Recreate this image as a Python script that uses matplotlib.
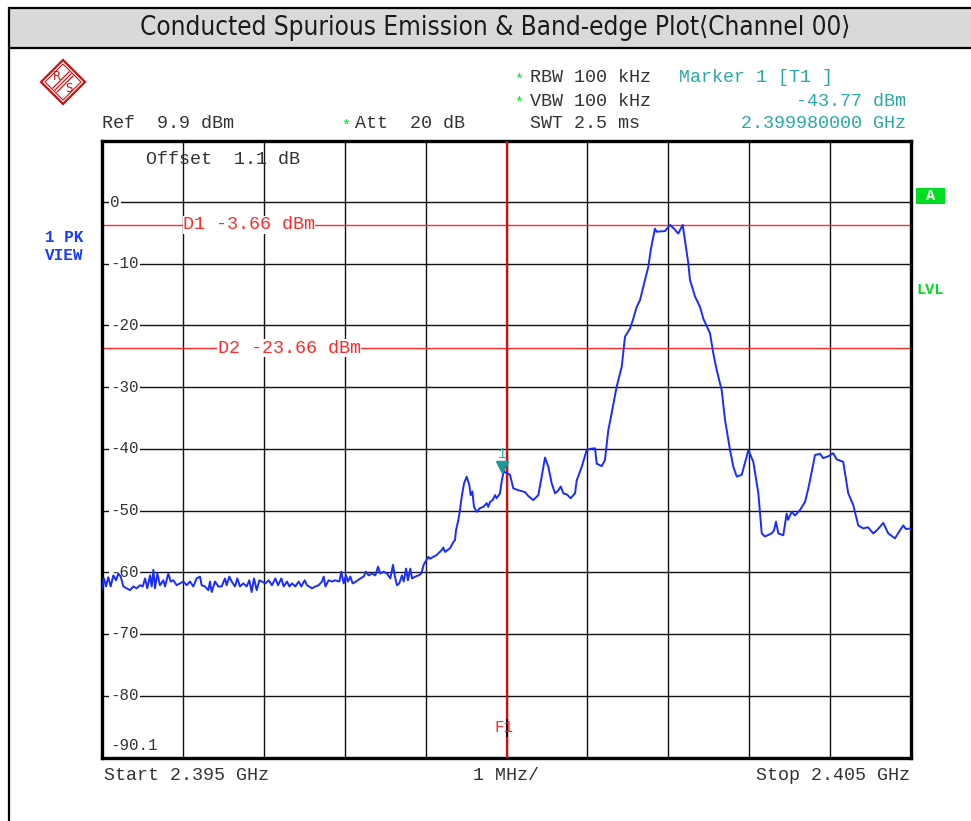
import matplotlib
matplotlib.use('Agg')
import matplotlib.pyplot as plt
from matplotlib.patches import Rectangle, Polygon

# sweep settings
f_start = 2395.0   # MHz
f_stop = 2405.0
ref_level = 9.9
bottom_level = -90.1
y_ticks = [0, -10, -20, -30, -40, -50, -60, -70, -80]
d1_level = -3.66
d2_level = -23.66
f1_mhz = 2400.0
marker_mhz = 2399.98
marker_dbm = -43.77

# trace, offset from start in MHz / level in dBm
trace_mhz = [
    0.000, 0.025, 0.049, 0.078, 0.107, 0.140, 0.173, 0.202, 0.231, 0.264,
    0.305, 0.346, 0.387, 0.429, 0.470, 0.503, 0.532, 0.560, 0.593, 0.614,
    0.635, 0.655, 0.684, 0.717, 0.758, 0.779, 0.820, 0.849, 0.882, 0.923,
    0.964, 1.005, 1.047, 1.088, 1.129, 1.170, 1.211, 1.232, 1.273, 1.314,
    1.335, 1.356, 1.397, 1.438, 1.479, 1.520, 1.541, 1.574, 1.603, 1.644,
    1.673, 1.706, 1.747, 1.788, 1.821, 1.850, 1.879, 1.912, 1.945, 1.974,
    2.019, 2.060, 2.101, 2.143, 2.176, 2.217, 2.246, 2.287, 2.316, 2.349,
    2.390, 2.431, 2.464, 2.505, 2.534, 2.596, 2.637, 2.678, 2.719, 2.740,
    2.761, 2.802, 2.843, 2.884, 2.934, 2.958, 2.987, 3.016, 3.041, 3.070,
    3.098, 3.140, 3.193, 3.234, 3.263, 3.296, 3.337, 3.379, 3.412, 3.440,
    3.482, 3.523, 3.564, 3.597, 3.618, 3.646, 3.675, 3.708, 3.729, 3.758,
    3.782, 3.811, 3.832, 3.873, 3.914, 3.947, 3.976, 3.997,
    4.034, 4.054, 4.137, 4.199, 4.219, 4.240, 4.302, 4.343, 4.363, 4.376,
    4.405, 4.425, 4.446, 4.475, 4.508, 4.541, 4.557, 4.578, 4.598, 4.631,
    4.672, 4.714, 4.755, 4.775, 4.796, 4.829, 4.858, 4.878, 4.920, 4.940,
    4.969, 4.980, 5.005, 5.043, 5.084, 5.146, 5.229, 5.266, 5.331, 5.393,
    5.435, 5.476, 5.517, 5.559, 5.600, 5.637, 5.670, 5.702, 5.748, 5.793,
    5.847, 5.868, 5.930, 5.991, 6.032, 6.094, 6.115, 6.177, 6.217, 6.258,
    6.300, 6.362, 6.424, 6.465, 6.527, 6.567, 6.609, 6.650, 6.712, 6.753,
    6.782, 6.835, 6.856, 6.959, 7.021, 7.070, 7.123, 7.178, 7.206, 7.247,
    7.268, 7.330, 7.392, 7.433, 7.516, 7.556, 7.598, 7.660, 7.701, 7.763,
    7.804, 7.846, 7.908, 7.990, 8.051, 8.113, 8.155, 8.195, 8.278, 8.307,
    8.331, 8.360, 8.421, 8.463, 8.480, 8.525, 8.566, 8.628, 8.690, 8.731,
    8.776, 8.813, 8.875, 8.915, 8.977, 9.039, 9.081, 9.162, 9.224, 9.286,
    9.348, 9.410, 9.468, 9.534, 9.592, 9.657, 9.719, 9.802, 9.864, 9.905,
    9.938, 9.988, 10.000,
]
trace_dbm = [
    -62.6, -61.0, -62.3, -60.8, -62.3, -60.5, -61.3, -60.2, -60.7, -62.3,
    -62.6, -62.9, -62.3, -62.6, -62.1, -62.3, -61.0, -62.6, -60.5, -62.3,
    -59.6, -62.6, -60.2, -62.1, -61.3, -62.3, -60.2, -61.5, -61.3, -62.1,
    -61.8, -61.5, -62.1, -61.5, -62.3, -61.0, -60.7, -62.1, -62.3, -62.9,
    -61.5, -63.2, -61.5, -62.3, -62.3, -61.0, -62.1, -60.7, -61.5, -62.3,
    -61.0, -62.3, -61.8, -62.3, -61.3, -63.2, -61.0, -62.9, -61.3, -61.5,
    -61.8, -61.3, -62.1, -61.0, -62.1, -61.0, -62.3, -61.5, -62.3, -61.8,
    -62.3, -61.5, -62.3, -61.3, -62.1, -62.6, -62.3, -62.1, -61.5, -60.7,
    -62.3, -61.3, -61.5, -61.3, -61.5, -59.9, -61.8, -60.5, -61.5, -60.7,
    -61.8, -61.5, -61.0, -60.7, -59.9, -60.5, -60.2, -60.5, -59.1, -60.2,
    -59.9, -60.2, -61.0, -58.8, -60.5, -62.1, -61.8, -60.5, -61.5, -59.4,
    -61.3, -59.4, -61.0, -60.7, -60.5, -60.2, -58.8, -58.3,
    -57.5, -57.8, -57.2, -56.4, -56.0, -56.7, -56.1, -55.1, -54.8, -53.2,
    -51.5, -49.9, -47.8, -45.6, -44.5, -45.9, -47.5, -46.9, -49.4, -50.2,
    -49.6, -49.4, -48.8, -49.4, -48.6, -48.3, -47.5, -48.0, -47.2, -45.3,
    -43.4, -43.8, -43.9, -44.2, -46.4, -46.7, -47.0, -47.6, -48.3, -47.5,
    -44.5, -41.4, -42.9, -45.6, -47.2, -46.8, -46.1, -47.2, -47.4, -48.0,
    -47.2, -45.1, -42.9, -40.2, -40.0, -39.9, -42.4, -42.8, -41.8, -37.0,
    -34.2, -29.9, -26.7, -21.8, -20.5, -18.9, -17.0, -15.9, -12.6, -10.5,
    -7.8, -4.3, -4.8, -4.7, -3.7, -4.3, -5.1, -3.7, -6.2, -9.9,
    -12.6, -15.3, -17.0, -18.9, -21.3, -24.5, -27.2, -30.5, -35.3, -40.2,
    -42.9, -44.5, -44.2, -40.2, -42.1, -47.2, -53.7, -54.2, -53.7, -53.2,
    -51.8, -53.7, -54.0, -50.5, -51.5, -50.2, -50.8, -49.9, -48.6, -46.4,
    -43.5, -41.0, -40.8, -41.5, -41.2, -40.7, -41.7, -42.1, -47.2, -49.1,
    -52.4, -52.9, -52.7, -53.7, -53.0, -52.0, -53.7, -54.5, -53.2, -52.4,
    -53.0, -52.9, -53.0,
]

W, H = 971, 821
mono = 'Liberation Mono'
red = '#ff2a2a'
teal = '#2aa8a8'
green = '#00dd22'
blue = '#1a3cff'
txt = '#333333'

fig = plt.figure(figsize=(W / 100, H / 100), dpi=100)

# background layer in pixel coordinates
bg = fig.add_axes([0, 0, 1, 1])
bg.set_xlim(0, W)
bg.set_ylim(H, 0)
bg.axis('off')

bg.add_patch(Rectangle((9, 8), W, 40, facecolor='#d9d9d9', edgecolor='black', lw=1.6))
bg.plot([9, 9], [48, H], color='black', lw=1.6)
bg.text(495, 28, 'Conducted Spurious Emission & Band-edge Plot\u27e8Channel 00\u27e9',
        ha='center', va='center', fontsize=18.7, fontstretch='condensed', color='#1a1a1a',
        family=['DejaVu Sans', 'Noto Sans CJK SC'])

# R&S logo
cx, cy, r = 63, 82, 22
logo = '#cc1111'
bg.add_patch(Polygon([(cx, cy - r), (cx + r, cy), (cx, cy + r), (cx - r, cy)],
                     closed=True, fill=False, edgecolor=logo, lw=1.6))
r2 = r - 4
bg.add_patch(Polygon([(cx, cy - r2), (cx + r2, cy), (cx, cy + r2), (cx - r2, cy)],
                     closed=True, fill=False, edgecolor=logo, lw=0.8))
for k in (-2.0, 0, 2.0):
    bg.plot([cx - 8 + k, cx + 8 + k], [cy + 8 + k, cy - 8 + k], color=logo, lw=0.9)
bg.text(cx - 6, cy - 6, 'R', color=logo, fontsize=8.5, ha='center', va='center', family='DejaVu Sans')
bg.text(cx + 6, cy + 7, 'S', color=logo, fontsize=8.5, ha='center', va='center', family='DejaVu Sans')

# header lines
fs = 13.2
bg.text(519, 80, '*', color=green, fontsize=11, ha='center', va='center', family=mono)
bg.text(530, 78, 'RBW 100 kHz', color=txt, fontsize=fs, va='center', family=mono)
bg.text(519, 103, '*', color=green, fontsize=11, ha='center', va='center', family=mono)
bg.text(530, 101, 'VBW 100 kHz', color=txt, fontsize=fs, va='center', family=mono)
bg.text(530, 124, 'SWT 2.5 ms', color=txt, fontsize=fs, va='center', family=mono)
bg.text(679, 78, 'Marker 1 [T1 ]', color=teal, fontsize=fs, va='center', family=mono)
bg.text(906, 101, '%.2f dBm' % marker_dbm, color=teal, fontsize=fs, va='center', ha='right', family=mono)
bg.text(906, 124, '%.9f GHz' % (marker_mhz / 1000), color=teal, fontsize=fs, va='center', ha='right', family=mono)
bg.text(102, 124, 'Ref  %.1f dBm' % ref_level, color=txt, fontsize=fs, va='center', family=mono)
bg.text(346, 126, '*', color=green, fontsize=11, ha='center', va='center', family=mono)
bg.text(355, 124, 'Att  20 dB', color=txt, fontsize=fs, va='center', family=mono)

bg.text(45, 237, '1 PK', color=blue, fontsize=11.5, weight='bold', va='center', family=mono)
bg.text(45, 256, 'VIEW', color=blue, fontsize=11.5, weight='bold', va='center', family=mono)
bg.add_patch(Rectangle((916, 188), 29, 16, facecolor=green, edgecolor='none'))
bg.text(930.5, 196, 'A', color='white', fontsize=11, weight='bold', ha='center', va='center', family=mono)
bg.text(916, 290, 'LVL', color=green, fontsize=11, weight='bold', va='center', family=mono)

bg.text(104, 775, 'Start %.3f GHz' % (f_start / 1000), color=txt, fontsize=fs, va='center', family=mono)
bg.text(506, 775, '1 MHz/', color=txt, fontsize=fs, va='center', ha='center', family=mono)
bg.text(910, 775, 'Stop %.3f GHz' % (f_stop / 1000), color=txt, fontsize=fs, va='center', ha='right', family=mono)

# measurement screen
L, R_, T, B = 102, 911, 141, 758
ax = fig.add_axes([L / W, 1 - B / H, (R_ - L) / W, (B - T) / H])
ax.set_xlim(f_start, f_stop)
ax.set_ylim(bottom_level, ref_level)
ax.set_xticks([])
ax.set_yticks([])
for s in ax.spines.values():
    s.set_linewidth(2.4)
    s.set_color('black')

for i in range(1, 10):
    ax.axvline(f_start + i, color='#111111', lw=1.0, zorder=1)
for yv in y_ticks:
    ax.axhline(yv, color='#111111', lw=1.0, zorder=1)
    ax.annotate(str(yv), xy=(0, yv), xycoords=('axes fraction', 'data'),
                xytext=(8, 0), textcoords='offset pixels', ha='left', va='center',
                fontsize=11.3, color=txt, family=mono, zorder=2,
                bbox=dict(facecolor='white', edgecolor='none', pad=1.0))
ax.annotate('%.1f' % bottom_level, xy=(0, bottom_level), xycoords=('axes fraction', 'data'),
            xytext=(8, 13), textcoords='offset pixels', ha='left', va='center',
            fontsize=11.3, color=txt, family=mono, zorder=2)

ax.text(f_start + 0.54, 6.9, 'Offset  1.1 dB', fontsize=fs, color=txt, family=mono,
        va='center', zorder=3)

# display lines
ax.axhline(d1_level, color=red, lw=1.0, zorder=2)
ax.axhline(d2_level, color=red, lw=1.0, zorder=2)
ax.text(f_start + 1.0, d1_level, 'D1 %.2f dBm' % d1_level, color=red, fontsize=fs, family=mono,
        va='center', zorder=3, bbox=dict(facecolor='white', edgecolor='none', pad=0.3))
ax.text(f_start + 1.43, d2_level, 'D2 %.2f dBm' % d2_level, color=red, fontsize=fs, family=mono,
        va='center', zorder=3, bbox=dict(facecolor='white', edgecolor='none', pad=0.3))

# frequency line F1
ax.axvline(f1_mhz, color='#cc1111', lw=1.6, zorder=3)
ax.plot([f1_mhz, f1_mhz], [-84.0, -86.5], color='black', lw=1.2, zorder=4)
ax.text(f1_mhz - 0.03, -85.2, 'F1', color=red, fontsize=11.3, family=mono,
        ha='center', va='center', zorder=5)

freqs = [f_start + m for m in trace_mhz]
ax.plot(freqs, trace_dbm, color='#1a2cff', lw=1.4, zorder=6)

# marker 1
ax.plot([marker_mhz - 0.03], [marker_dbm + 0.9], marker='v', markersize=9,
        color='#1a9a9a', zorder=7)
ax.text(marker_mhz - 0.03, marker_dbm + 3.0, '1', color=teal, fontsize=10,
        family=mono, ha='center', va='center', zorder=7)

fig.savefig('out.png', dpi=100)
